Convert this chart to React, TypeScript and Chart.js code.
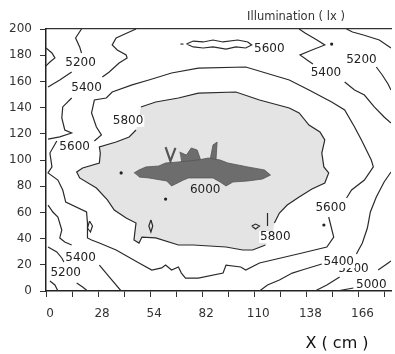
import React, { useEffect, useRef } from 'react';
import { Chart, registerables } from 'chart.js';

Chart.register(...registerables);

type P = [number, number];

// ---- axes ----
const xTickPositions = [0, 14, 28, 42, 56, 70, 84, 98, 112, 126, 140, 154, 168, 182];
const xTickLabels = ['0', '28', '54', '82', '110', '138', '166'];
const yTickValues = [0, 20, 40, 60, 80, 100, 120, 140, 160, 180, 200];

// ---- filled regions ----
const region5800: P[] = [
  [51.0, 140.5], [59.0, 144.3], [71.2, 147.3], [81.9, 151.1], [102.1, 151.9], [114.8, 145.8],
  [130.8, 139.7], [136.1, 135.9], [141.4, 126.7], [147.3, 121.4], [149.9, 115.3], [148.3, 105.3],
  [149.4, 94.7], [152.0, 90.1], [149.9, 82.4], [143.0, 77.9], [136.1, 71.8], [129.7, 65.6],
  [125.5, 59.5], [122.8, 51.9], [121.7, 42.7], [118.0, 35.1], [111.1, 31.3], [105.8, 31.3],
  [96.8, 33.6], [79.2, 35.1], [71.2, 35.1], [59.0, 40.5], [51.6, 41.2], [50.0, 36.6],
  [47.3, 38.9], [47.8, 45.0], [48.4, 51.9], [43.1, 55.7], [36.7, 61.8], [33.0, 69.5],
  [27.1, 78.6], [18.1, 86.3], [16.5, 90.8], [19.7, 93.9], [28.7, 97.7], [29.2, 105.3],
  [28.7, 109.9], [37.7, 113.7], [44.7, 117.6], [48.4, 122.9], [50.0, 132.1],
];
const region6000: P[] = [
  [47.3, 90.1], [50.0, 92.4], [53.7, 94.7], [60.6, 95.4], [64.3, 97.7], [71.2, 98.5],
  [81.9, 100], [87.2, 101.5], [93.6, 100], [97.8, 97.7], [108.5, 94.7], [117.5, 92.4],
  [120.7, 88.5], [116.4, 85.5], [108.5, 84.0], [100.5, 83.2], [96.8, 80.2], [93.6, 83.2],
  [89.8, 86.3], [76.6, 86.3], [73.9, 84.7], [67.5, 80.2], [64.9, 84.0], [55.3, 86.3], [50.0, 87.0],
];
const region6000Blob: P[] = [[71.8, 106.1], [75.5, 103.8], [78.1, 109.2], [81.3, 107.6], [83.5, 98.5], [72.8, 97.7]];
const region6000Spike: P[] = [[88.2, 100], [89.8, 111.5], [92.0, 113.7], [91.4, 100]];
const spike6000V: P[] = [[64.3, 109.9], [66.9, 99.2], [69.6, 109.2]];

// ---- contour lines ----
const c5800a: P[] = [
  [51.0, 140.5], [59.0, 144.3], [71.2, 147.3], [81.9, 151.1], [102.1, 151.9], [114.8, 145.8],
  [130.8, 139.7], [136.1, 135.9], [141.4, 126.7], [147.3, 121.4], [149.9, 115.3], [148.3, 105.3],
  [149.4, 94.7], [152.0, 90.1], [149.9, 82.4], [143.0, 77.9], [136.1, 71.8], [129.7, 65.6],
  [125.5, 59.5], [122.8, 51.9],
];
const c5800b: P[] = [
  [118.0, 35.1], [111.1, 31.3], [105.8, 31.3], [96.8, 33.6], [79.2, 35.1], [71.2, 35.1],
  [59.0, 40.5], [51.6, 41.2], [50.0, 36.6], [47.3, 38.9], [47.8, 45.0], [48.4, 51.9],
  [43.1, 55.7], [36.7, 61.8], [33.0, 69.5], [27.1, 78.6], [18.1, 86.3], [16.5, 90.8],
  [19.7, 93.9], [28.7, 97.7], [29.2, 105.3], [28.7, 109.9], [37.7, 113.7], [44.7, 117.6], [48.4, 122.9],
];
const c5600a: P[] = [
  [26.0, 114.5], [29.8, 119.1], [27.1, 125.2], [24.5, 135.9], [26.0, 145.8], [32.4, 147.3],
  [35.6, 151.9], [46.3, 157.3], [55.3, 161.1], [67.5, 166.4], [81.9, 170.2], [107.4, 171.0],
  [130.8, 161.1], [141.4, 153.4], [153.6, 144.3], [160.6, 138.2], [165.9, 125.2], [169.6, 115.3],
  [174.9, 100], [176.0, 94.7], [171.2, 84.7], [164.3, 77.1], [161.6, 71.0],
];
const c5600b: P[] = [
  [152.0, 56.5], [154.7, 41.2], [151.0, 33.6], [137.7, 29.0], [114.8, 21.4], [107.4, 16.0],
  [104.7, 18.3], [96.8, 19.8], [95.2, 13.7], [81.9, 9.9], [75.0, 9.9], [72.8, 13.7],
  [71.2, 18.3], [67.5, 16.0], [64.3, 19.8], [62.2, 17.6], [56.9, 16.0], [50.0, 21.4],
  [37.7, 31.3], [28.7, 36.6], [24.5, 38.9], [22.3, 40.5], [22.3, 51.9], [21.8, 60.3],
  [10.6, 67.9], [9.0, 77.1], [6.4, 84.7], [1.1, 90.1], [3.2, 94.7], [2.1, 105.3], [5.8, 114.5],
];
const c5600Island: P[] = [
  [75.5, 188.5], [79.2, 190.8], [84.5, 190.1], [89.8, 191.6], [95.2, 190.1], [103.1, 191.6],
  [108.5, 190.1], [110.6, 187.8], [107.4, 185.5], [102.1, 186.3], [96.8, 184.7], [89.8, 186.3],
  [84.5, 185.5], [79.2, 186.3], [75.5, 188.5],
];
const c5600Dash: P[] = [[72.3, 188.5], [73.9, 188.5]];
const c5400TopLeftA: P[] = [
  [48.4, 200], [43.6, 197], [37.7, 193.1], [35.6, 187.8], [38.3, 184], [43.1, 180.2],
  [43.6, 177.9], [39.3, 174], [34.0, 167.2], [30.3, 163.4],
];
const c5400TopLeftB: P[] = [
  [13.8, 147.3], [9.0, 140.5], [8.5, 132.1], [10.1, 122.9], [13.8, 120.6], [7.4, 117.6], [1.1, 116],
];
const c5400TopRightA: P[] = [
  [136.1, 200], [139.3, 197], [145.7, 191.6], [149.9, 187.8], [143.0, 184], [136.6, 180.2],
  [140.4, 176.3], [143.5, 173.3],
];
const c5400TopRightB: P[] = [
  [160.6, 159.5], [165.9, 153.4], [171.2, 149.6], [176.5, 140.5], [181.8, 132.8], [185.5, 128.2],
];
const c5400BottomRightA: P[] = [
  [114.8, 0], [119.1, 4.6], [125.5, 8.4], [132.4, 13.7], [137.7, 16.0], [148.3, 20.6],
];
const c5400BottomRightB: P[] = [
  [166.9, 28.2], [170.1, 36.6], [172.8, 48.1], [174.4, 60.3], [177.6, 71.8], [181.8, 83.2], [185.5, 90.8],
];
const c5400BottomLeftA: P[] = [
  [1.1, 65.6], [3.7, 60.3], [6.4, 56.5], [8.5, 46.6], [7.4, 40.5], [10.1, 37.4], [13.8, 35.1],
];
const c5400BottomLeftB: P[] = [[1.1, 33.6], [5.8, 29.8], [8.5, 25.2], [9.6, 22.1]];
const c5400BottomLeftC: P[] = [[28.7, 19.8], [34.0, 10.7], [40.4, 0]];
const c5200BottomLeftA: P[] = [[2.1, 7.6], [4.8, 4.6], [6.4, 0]];
const c5200BottomLeftB: P[] = [[16.5, 6.1], [19.7, 3.1], [22.3, 0]];
const c5200TopLeftA: P[] = [[19.1, 200], [15.9, 193.1], [18.1, 186.3], [19.1, 181.7]];
const c5200TopLeftB: P[] = [[13.8, 167.2], [7.4, 161.1], [1.1, 155.7]];
const c5000LeftBump: P[] = [[0, 185.5], [3.2, 181.7], [4.8, 177.9], [2.1, 174.8], [0, 171.8]];
const c5200TopRightA: P[] = [[161.6, 200], [164.8, 197.7], [170.7, 195.4], [179.2, 191.6], [185.5, 185.5]];
const c5200TopRightB: P[] = [[177.6, 171], [180.8, 164.9], [183.9, 158], [185.5, 153.4]];
const c5200BottomRightA: P[] = [[144.6, 0], [151.0, 4.6], [157.9, 10.7]];
const c5200BottomRightB: P[] = [[178.6, 16.0], [185.5, 22.9]];
const c5000BottomRight: P[] = [[156.3, 0], [165.3, 2.3]];
const smallLoopA: P[] = [[56.4, 54.2], [57.4, 49.6], [56.4, 45.0], [55.3, 49.6], [56.4, 54.2]];
const smallLoopB: P[] = [[23.4, 53.4], [25.0, 49.6], [23.9, 45.0], [22.3, 48.1], [23.4, 53.4]];
const smallLoopC: P[] = [[110.6, 49.6], [112.7, 51.1], [114.8, 49.6], [112.7, 47.3], [110.6, 49.6]];
const smallTick: P[] = [[119.1, 59.5], [119.1, 49.6]];
const spotPoints: P[] = [[40.4, 90.1], [64.3, 70.2], [149.4, 50.4], [153.6, 188.5]];

const contourSegments: P[][] = [
  c5800a, c5800b, c5600a, c5600b, c5600Island, c5600Dash,
  c5400TopLeftA, c5400TopLeftB, c5400TopRightA, c5400TopRightB,
  c5400BottomRightA, c5400BottomRightB, c5400BottomLeftA, c5400BottomLeftB, c5400BottomLeftC,
  c5200BottomLeftA, c5200BottomLeftB, c5200TopLeftA, c5200TopLeftB, c5000LeftBump,
  c5200TopRightA, c5200TopRightB, c5200BottomRightA, c5200BottomRightB, c5000BottomRight,
  smallLoopA, smallLoopB, smallLoopC, smallTick,
];

// ---- contour labels (text, x, y, background) ----
const labelTexts = ['5200', '5400', '5600', '5800', '6000', '5600', '5400', '5200', '5600', '5800', '5200', '5400', '5000', '5400', '5200'];
const labelX = [18.6, 21.8, 15.4, 44.1, 85.6, 120.1, 150.5, 169.6, 153.1, 123.3, 165.3, 157.4, 174.9, 18.6, 10.6];
const labelY = [174, 155, 109.9, 129.8, 77.1, 184.7, 166.4, 176.3, 63.4, 41.2, 16.8, 22.1, 4.6, 25.2, 13.7];
const labelBg = ['', '', '', '#ffffff', '', '', '', '', '', '#ffffff', '', '#ffffff', '', '', ''];

const toXY = (pts: P[]) => pts.map(([x, y]) => ({ x, y }));

const LINE = '#2a2a2a';

const textPlugin = {
  id: 'contourTexts',
  afterDatasetsDraw(chart: any) {
    const { ctx, scales, chartArea } = chart;
    const xs = scales.x;
    const ys = scales.y;
    ctx.save();
    ctx.font = '12px "DejaVu Sans"';
    ctx.textAlign = 'center';
    ctx.textBaseline = 'middle';
    for (let i = 0; i < labelTexts.length; i++) {
      const px = xs.getPixelForValue(labelX[i]);
      const py = ys.getPixelForValue(labelY[i]);
      const w = ctx.measureText(labelTexts[i]).width;
      if (labelBg[i]) {
        ctx.fillStyle = labelBg[i];
        ctx.fillRect(px - w / 2 - 1, py - 6, w + 2, 12);
      }
      ctx.fillStyle = '#222';
      ctx.fillText(labelTexts[i], px, py);
    }
    ctx.font = '11.5px "DejaVu Sans"';
    ctx.fillStyle = '#333';
    ctx.fillText('Illumination ( lx )', chartArea.left + 250, chartArea.top - 12);
    ctx.font = '16px "DejaVu Sans"';
    ctx.fillStyle = '#111';
    ctx.fillText('X ( cm )', chartArea.left + 291, chartArea.bottom + 53);
    ctx.restore();
  },
};

export default function App() {
  const ref = useRef<HTMLCanvasElement | null>(null);
  useEffect(() => {
    if (!ref.current) return;
    const datasets: any[] = [];
    datasets.push({
      data: toXY(region5800), showLine: true, fill: 'shape', backgroundColor: '#e4e4e4',
      borderWidth: 0, pointRadius: 0, order: 5,
    });
    for (const r of [region6000, region6000Blob, region6000Spike]) {
      datasets.push({
        data: toXY(r), showLine: true, fill: 'shape', backgroundColor: '#6d6d6d',
        borderColor: '#555', borderWidth: 0.8, pointRadius: 0, order: 4,
      });
    }
    datasets.push({
      data: toXY(spike6000V), showLine: true, fill: false, borderColor: '#555',
      borderWidth: 2.2, pointRadius: 0, order: 3,
    });
    for (const seg of contourSegments) {
      datasets.push({
        data: toXY(seg), showLine: true, fill: false, borderColor: LINE,
        borderWidth: 1.2, pointRadius: 0, order: 2,
      });
    }
    datasets.push({
      data: toXY(spotPoints), showLine: false, pointRadius: 1.6, pointBackgroundColor: '#222',
      pointBorderWidth: 0, order: 1,
    });

    const tickFont = { family: '"DejaVu Sans"', size: 12 };
    const chart = new Chart(ref.current, {
      type: 'scatter',
      data: { datasets },
      plugins: [textPlugin],
      options: {
        animation: false,
        responsive: false,
        devicePixelRatio: 1,
        layout: { padding: { top: 29, right: 1, left: 0, bottom: 0 } },
        plugins: { legend: { display: false }, tooltip: { enabled: false } },
        elements: { line: { tension: 0 } },
        scales: {
          x: {
            type: 'linear', position: 'bottom', min: 0, max: 185.5,
            afterBuildTicks: (s: any) => { s.ticks = xTickPositions.map((v) => ({ value: v })); },
            afterFit: (s: any) => { s.height = 63; },
            ticks: {
              autoSkip: false, maxRotation: 0, padding: 10, labelOffset: 4, color: '#333', font: tickFont,
              callback: (_v: any, i: number) => (i % 2 === 0 ? xTickLabels[i / 2] : ''),
            },
            grid: { drawOnChartArea: false, drawTicks: true, tickLength: 6, color: '#333', lineWidth: 1 },
            border: { display: true, color: '#222', width: 1.5 },
          },
          xTop: {
            type: 'linear', position: 'top', min: 0, max: 185.5,
            afterFit: (s: any) => { s.height = 0; },
            ticks: { display: false },
            grid: { display: false },
            border: { display: true, color: '#333', width: 1.2 },
          },
          y: {
            type: 'linear', position: 'left', min: 0, max: 200,
            afterBuildTicks: (s: any) => { s.ticks = yTickValues.map((v) => ({ value: v })); },
            afterFit: (s: any) => { s.width = 46; },
            ticks: { autoSkip: false, padding: 8, color: '#333', font: tickFont },
            grid: { drawOnChartArea: false, drawTicks: true, tickLength: 6, color: '#333', lineWidth: 1 },
            border: { display: true, color: '#222', width: 1.5 },
          },
        },
      } as any,
    });
    return () => chart.destroy();
  }, []);

  return (
    <div style={{ position: 'absolute', left: 0, top: 0, width: 395, height: 354, background: '#fff' }}>
      <canvas ref={ref} width={395} height={354} style={{ width: 395, height: 354, display: 'block' }} />
    </div>
  );
}
